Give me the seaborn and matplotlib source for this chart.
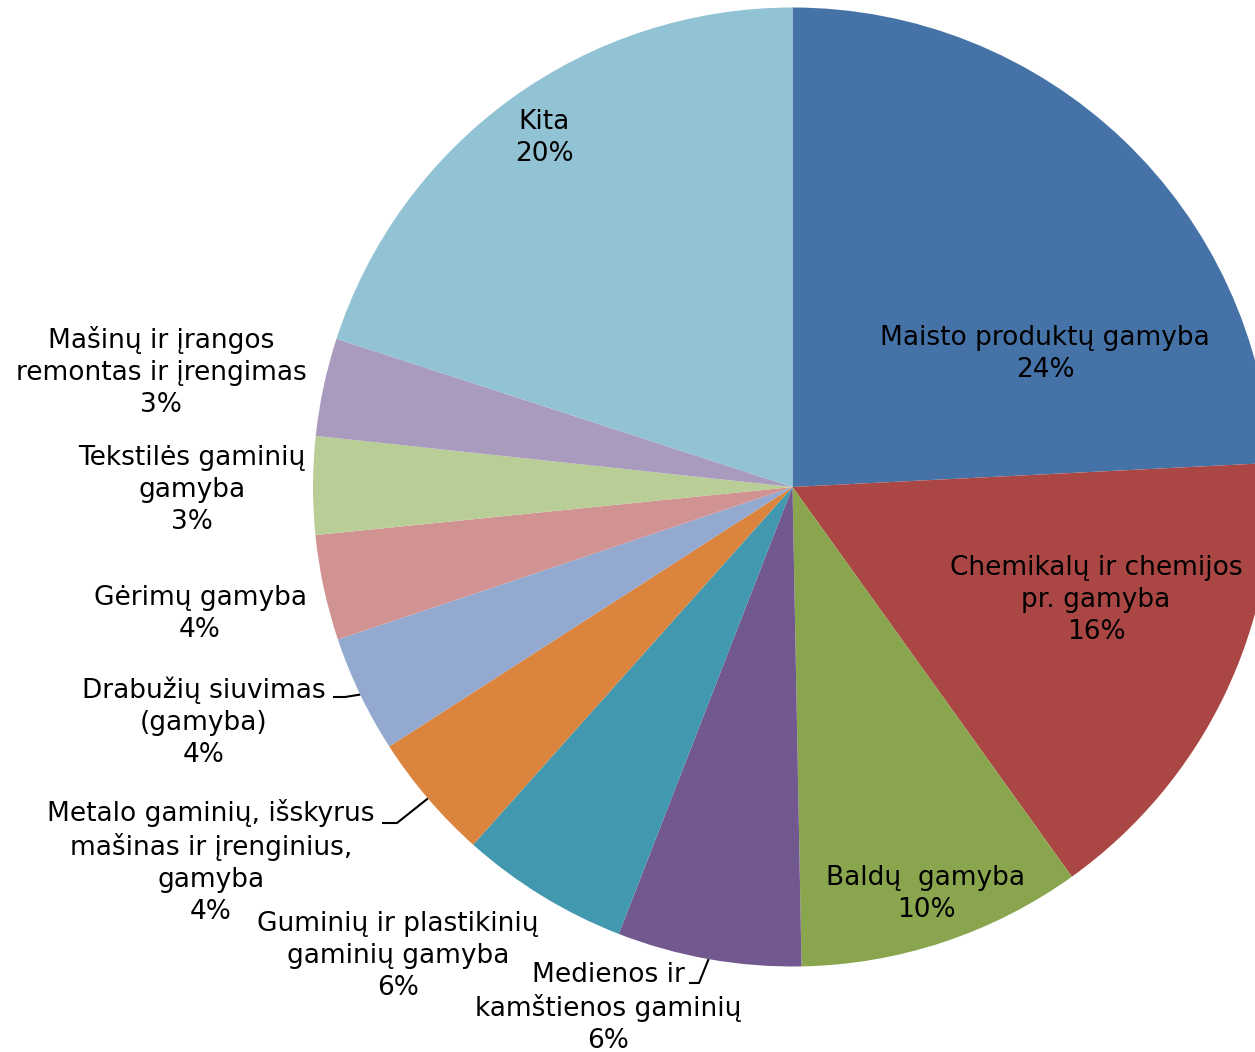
import numpy as np
import matplotlib
matplotlib.use("Agg")
import matplotlib.pyplot as plt
import seaborn as sns


# Data (share of manufacturing, %)
categories = [
    "Maisto produktų gamyba",
    "Chemikalų ir chemijos\npr. gamyba",
    "Baldų  gamyba",
    "Medienos ir\nkamštienos gaminių",
    "Guminių ir plastikinių\ngaminių gamyba",
    "Metalo gaminių, išskyrus\nmašinas ir įrenginius,\ngamyba",
    "Drabužių siuvimas\n(gamyba)",
    "Gėrimų gamyba",
    "Tekstilės gaminių\ngamyba",
    "Mašinų ir įrangos\nremontas ir įrengimas",
    "Kita",
]
values = [24.2, 15.9, 9.6, 6.2, 5.7, 4.3, 3.95, 3.55, 3.3, 3.3, 20.0]

colors = ["#4572A7", "#AA4643", "#89A54E", "#71588F", "#4198AF", "#DB843D",
          "#93A9CF", "#D19392", "#B9CD96", "#A99BBD", "#92C3D4"]


sns.set_theme(style="white")
plt.rcParams["font.family"] = ["DejaVu Sans"]

W, H = 1255, 1052
cx, cy, R = 792.5, 487, 479.5


def px(x, y):
    # pixel position -> data coords (pie radius = 1)
    return (x - cx) / R, (cy - y) / R


fig = plt.figure(figsize=(W / 100, H / 100), dpi=100)
ax = fig.add_axes([0, 0, 1, 1])

wedges, _ = ax.pie(
    values,
    colors=colors,
    startangle=90,
    counterclock=False,
    radius=1,
    wedgeprops=dict(linewidth=0),
)

ax.set_xlim(-cx / R, (W - cx) / R)
ax.set_ylim((cy - H) / R, cy / R)
ax.set_aspect("equal")
ax.axis("off")

# label centers (pixels)
label_pos = [
    (1045, 354), (1096, 600), (926, 894), (608, 1008), (398, 956),
    (211, 862), (204, 722), (200, 614), (192, 490), (161, 372), (544, 138),
]

total = sum(values)
for name, v, pos in zip(categories, values, label_pos):
    x, y = px(*pos)
    ax.text(x, y, f"{name}\n{v / total * 100:.0f}%", ha="center", va="center",
            multialignment="center", fontsize=19, color="black",
            linespacing=1.3)

# leader lines: (wedge index, start, elbow)
leaders = [
    (3, (689, 983), (699, 983)),
    (5, (382, 823), (397, 823)),
    (6, (333, 697), (345, 697)),
]
for i, start, elbow in leaders:
    w = wedges[i]
    mid = np.deg2rad((w.theta1 + w.theta2) / 2)
    tip = (np.cos(mid), np.sin(mid))
    p0 = px(*start)
    p1 = px(*elbow)
    ax.plot([p0[0], p1[0], tip[0]], [p0[1], p1[1], tip[1]],
            color="black", lw=1.5, solid_capstyle="butt")

plt.savefig("out.png", dpi=100)
